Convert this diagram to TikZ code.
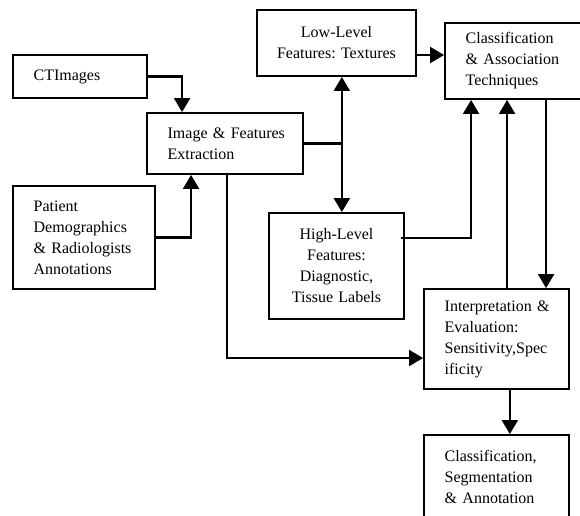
\documentclass[tikz,border=0pt]{standalone}
\usepackage{fontspec}
\setmainfont{Liberation Serif}
\usetikzlibrary{positioning,arrows.meta}

\begin{document}
\begin{tikzpicture}[x=0.75pt,y=-0.75pt,
  box/.style={draw,line width=1.4pt,inner ysep=0pt,font=\fontsize{12}{15.75}\selectfont\frenchspacing},
  lbox/.style={box,align=left,inner xsep=4pt,execute at begin node={\leftskip=11.5pt\hyphenpenalty=10000\relax}},
  cbox/.style={box,align=center,inner xsep=2pt},
  arr/.style={line width=1.6pt,-{Triangle[length=10.5pt,width=12pt]}},
  dblarr/.style={line width=1.6pt,{Triangle[length=10.5pt,width=12pt]}-{Triangle[length=10.5pt,width=12pt]}},
  link/.style={line width=1.6pt}]
\useasboundingbox (0,0) rectangle (580,515);
\clip (0,0) rectangle (580,515);
\node[lbox,text width=92.5pt,minimum height=32.25pt] (ct) at (80,76.5) {CTImages};
\node[lbox,text width=109pt,minimum height=45.75pt] (ife) at (225,143.5) {Image \& Features\\Extraction};
\node[lbox,text width=98.5pt,minimum height=77.25pt] (pat) at (84,237.5) {Patient\\Demographics\\\& Radiologists\\Annotations};
\node[cbox,text width=115pt,minimum height=49.5pt] (low) at (336.5,43) {Low-Level\\Features: Textures};
\node[lbox,text width=112pt,minimum height=57pt] (cls) at (525,61) {Classification\\\& Association\\Techniques};
\node[cbox,text width=97pt,minimum height=79.5pt] (high) at (336.5,266) {High-Level\\Features:\\Diagnostic,\\Tissue Labels};
\node[lbox,text width=100.75pt,minimum height=75pt] (interp) at (496.5,339) {Interpretation \&\\Evaluation:\\Sensitivity,Spec\\ificity};
\node[lbox,text width=100.75pt,minimum height=63pt] (out) at (496.5,477) {Classification,\\Segmentation\\\& Annotation};

\draw[arr] (ct.east) -| ([xshift=27pt]ife.north west);
\draw[arr] (pat.east) -| ([xshift=33.75pt]ife.south west);
\draw[arr] ([xshift=60.75pt]ife.south west) |- ([yshift=-14.25pt]interp.west);
\draw[arr] ([yshift=-9pt]low.east) -- ([yshift=-9pt]low.east -| cls.west);
\draw[dblarr] ([xshift=4pt]low.south) -- ([xshift=4pt]high.north);
\draw[link] (ife.east) -- ([xshift=4pt]low.south |- ife.east);
\draw[arr] ([xshift=-3pt,yshift=21pt]high.east) -| ([xshift=20.25pt]cls.south west);
\draw[arr] ([xshift=63pt]interp.north west) -- ([xshift=63pt]interp.north west |- cls.south);
\draw[arr] ([xshift=76.5pt]cls.south west) -- ([xshift=76.5pt]cls.south west |- interp.north);
\draw[arr] ([xshift=10pt]interp.south) -- ([xshift=10pt]interp.south |- out.north);
\end{tikzpicture}
\end{document}
